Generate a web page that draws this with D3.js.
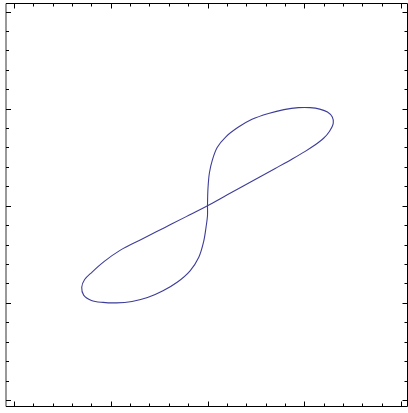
<!DOCTYPE html>
<html><head><meta charset="utf-8">
<script src="https://cdn.jsdelivr.net/npm/d3@7"></script>
<style>html,body{margin:0;padding:0;background:#fff;}svg{display:block;}</style>
</head><body>
<svg id="c" width="408" height="413"></svg>
<script>
// Curve (data coordinates), in drawing order
const curveX = [0.00, 0.20, 0.45, 0.70, 0.88, 1.01, 1.11, 1.20, 1.26, 1.30, 1.29, 1.24, 1.16, 1.06, 0.94, 0.79, 0.63, 0.46, 0.32, 0.19, 0.10, 0.05, 0.02, 0.005,
                0.00, 0.00, -0.015, -0.04, -0.09, -0.18, -0.31, -0.46, -0.62, -0.78, -0.94, -1.08, -1.20, -1.28, -1.30, -1.27, -1.19, -1.07, -0.90, -0.68, -0.45, -0.22];
const curveY = [0.00, 0.110, 0.247, 0.384, 0.484, 0.560, 0.625, 0.695, 0.765, 0.850, 0.915, 0.965, 0.995, 1.01, 1.01, 0.99, 0.95, 0.89, 0.81, 0.71, 0.60, 0.47, 0.34, 0.18,
                0.00, -0.10, -0.22, -0.37, -0.53, -0.67, -0.785, -0.875, -0.945, -0.985, -1.00, -0.995, -0.975, -0.92, -0.84, -0.76, -0.68, -0.575, -0.457, -0.345, -0.228, -0.112];
const majorTicks = [-2, -1, 0, 1, 2];
const minorTicks = [-1.8, -1.6, -1.4, -1.2, -0.8, -0.6, -0.4, -0.2, 0.2, 0.4, 0.6, 0.8, 1.2, 1.4, 1.6, 1.8];

const svg = d3.select("#c");
const x = d3.scaleLinear().domain([-2, 2]).range([14, 401]);
const y = d3.scaleLinear().domain([-2, 2]).range([400, 11.5]);
const L = 6, R = 407.5, T = 3.5, B = 406.5;

const g = svg.append("g");
// frame
g.append("line").attr("x1", L).attr("x2", L).attr("y1", T).attr("y2", B).attr("stroke", "#555").attr("stroke-width", 1.2);
g.append("line").attr("x1", L).attr("x2", R).attr("y1", B).attr("y2", B).attr("stroke", "#000").attr("stroke-width", 1);
g.append("line").attr("x1", L).attr("x2", R).attr("y1", T).attr("y2", T).attr("stroke", "#000").attr("stroke-width", 1);
g.append("line").attr("x1", R).attr("x2", R).attr("y1", T).attr("y2", B).attr("stroke", "#000").attr("stroke-width", 1);

function ticks(vals, len) {
  vals.forEach(v => {
    const px = Math.round(x(v)) + 0.5, py = Math.round(y(v)) + 0.5;
    g.append("line").attr("x1", px).attr("x2", px).attr("y1", B).attr("y2", B - len).attr("stroke", "#000");
    g.append("line").attr("x1", px).attr("x2", px).attr("y1", T).attr("y2", T + len).attr("stroke", "#000");
    g.append("line").attr("y1", py).attr("y2", py).attr("x1", L).attr("x2", L + len).attr("stroke", "#000");
    g.append("line").attr("y1", py).attr("y2", py).attr("x1", R).attr("x2", R - len).attr("stroke", "#000");
  });
}
ticks(majorTicks, 5);
ticks(minorTicks, 3);

const pts = curveX.map((v, i) => [v, curveY[i]]);
const line = d3.line().x(d => x(d[0])).y(d => y(d[1])).curve(d3.curveCatmullRomClosed.alpha(0.5));
svg.append("path").attr("d", line(pts)).attr("fill", "none").attr("stroke", "#3d3d99").attr("stroke-width", 1.1);
</script>
</body></html>
